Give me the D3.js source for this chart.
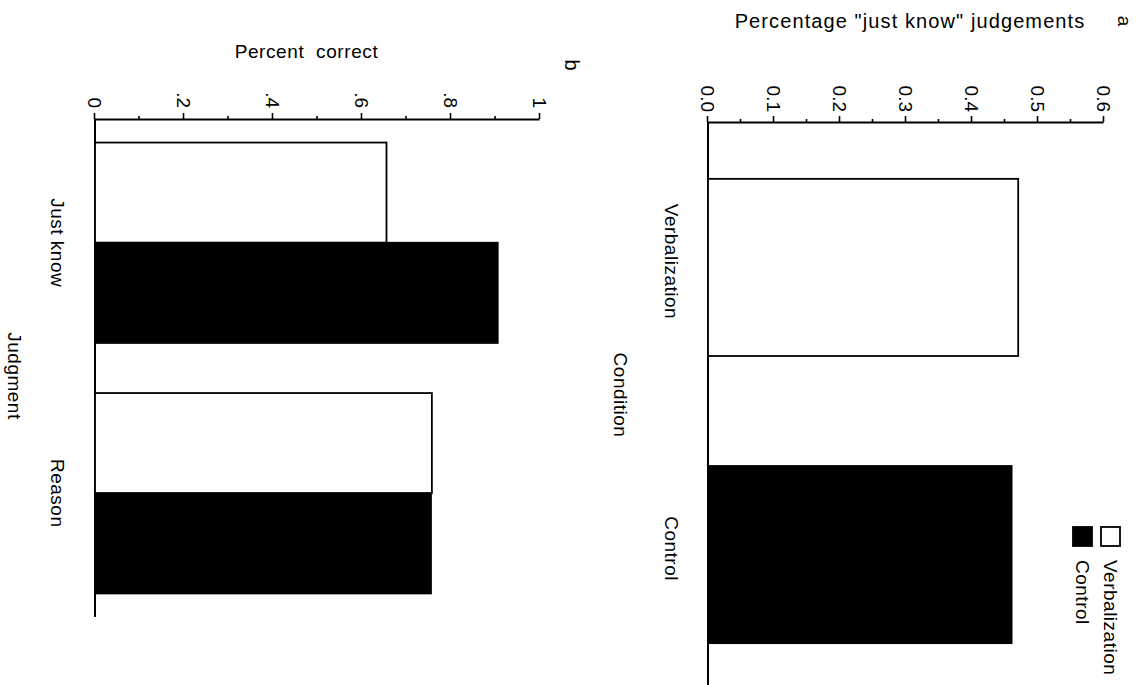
<!DOCTYPE html>
<html>
<head>
<meta charset="utf-8">
<script src="https://cdn.jsdelivr.net/npm/d3@7"></script>
<style>
  html, body { margin: 0; padding: 0; background: #fff; }
  svg { display: block; }
  text { font-family: "Liberation Sans", Arial, Helvetica, sans-serif; fill: #000; }
</style>
</head>
<body>
<svg id="chart" width="1138" height="685"></svg>
<script>
// Panel a: share of "just know" judgements by condition
const conditions = ["Verbalization", "Control"];
const justKnowShare = [0.47, 0.46];
const ticksA = [0.0, 0.1, 0.2, 0.3, 0.4, 0.5, 0.6];
const minorTicksA = [0.05, 0.15, 0.25, 0.35, 0.45, 0.55];

// Panel b: percent correct by judgement type and condition
const judgments = ["Just know", "Reason"];
const correctVerbalization = [0.655, 0.757];
const correctControl = [0.905, 0.755];
const ticksB = [0, 0.2, 0.4, 0.6, 0.8, 1];
const tickLabelsB = ["0", ".2", ".4", ".6", ".8", "1"];
const minorTicksB = [0.1, 0.3, 0.5, 0.7, 0.9];

const fills = { "Verbalization": "#fff", "Control": "#000" };
const FONT = 19;

const svg = d3.select("#chart");
svg.append("rect").attr("width", 1138).attr("height", 685).attr("fill", "#fff");

// The figure is laid out upright, then turned a quarter turn clockwise.
const g = svg.append("g").attr("transform", "translate(1138,0) rotate(90)");

function styleAxis(sel, width) {
  sel.select(".domain").attr("stroke", "#000").attr("stroke-width", width);
  sel.selectAll(".tick line").attr("stroke", "#000").attr("stroke-width", 1.6);
  sel.selectAll(".tick text").attr("font-size", FONT)
    .attr("font-family", "'Liberation Sans', Arial, Helvetica, sans-serif");
}

// ---------- panel a ----------
const axA = 122;
const yA = d3.scaleLinear().domain([0, 0.6]).range([430, 34]);
const xA = d3.scaleBand().domain(conditions).range([axA, 700])
  .paddingInner(0.383).paddingOuter(0.198);

const gA = g.append("g");
gA.append("g").attr("transform", `translate(${axA},0)`)
  .call(d3.axisLeft(yA).tickValues(minorTicksA).tickSize(3).tickFormat(""))
  .call(s => s.select(".domain").remove())
  .call(s => s.selectAll(".tick line").attr("stroke", "#000").attr("stroke-width", 1.6));
gA.append("g").attr("transform", `translate(${axA},0)`)
  .call(d3.axisLeft(yA).tickValues(ticksA).tickSize(6).tickSizeOuter(0).tickPadding(4)
    .tickFormat(d3.format(".1f")))
  .call(s => styleAxis(s, 2));

gA.append("line").attr("x1", axA).attr("x2", 700).attr("y1", yA(0)).attr("y2", yA(0))
  .attr("stroke", "#000").attr("stroke-width", 2);

gA.selectAll("rect.bar").data(conditions).join("rect").attr("class", "bar")
  .attr("x", d => xA(d)).attr("width", xA.bandwidth())
  .attr("y", (d, i) => yA(justKnowShare[i]))
  .attr("height", (d, i) => yA(0) - yA(justKnowShare[i]))
  .attr("fill", d => fills[d]).attr("stroke", "#000").attr("stroke-width", 1.8);

gA.selectAll("text.cat").data(conditions).join("text").attr("class", "cat")
  .attr("x", d => xA(d) + xA.bandwidth() / 2 - 6).attr("y", yA(0) + 43)
  .attr("text-anchor", "middle").attr("font-size", FONT).attr("letter-spacing", 0.5)
  .text(d => d);

gA.append("text").attr("x", 395).attr("y", yA(0) + 94)
  .attr("text-anchor", "middle").attr("font-size", FONT).attr("letter-spacing", 0.5)
  .text("Condition");

gA.append("text")
  .attr("transform", `translate(28,${(yA(0) + yA(0.6)) / 2 - 4}) rotate(-90)`)
  .attr("text-anchor", "middle").attr("font-size", 20).attr("letter-spacing", 1.1)
  .text("Percentage \"just know\" judgements");

gA.append("text").attr("x", 21).attr("y", 20).attr("font-size", 19)
  .attr("text-anchor", "middle").text("a");

// legend
const legend = gA.append("g");
conditions.forEach((c, i) => {
  const cy = 27 + i * 28;
  legend.append("rect").attr("x", 527).attr("y", cy - 9).attr("width", 19).attr("height", 19)
    .attr("fill", fills[c]).attr("stroke", "#000").attr("stroke-width", 1.8);
  legend.append("text").attr("x", 560).attr("y", cy + 7).attr("font-size", FONT)
    .attr("letter-spacing", 0.5).text(c);
});

// ---------- panel b ----------
const axB = 119;
const yB = d3.scaleLinear().domain([0, 1]).range([1043, 598]);
const xB = d3.scaleBand().domain(judgments).range([axB, 617])
  .paddingInner(0.2).paddingOuter(0.094);
const xSub = d3.scaleBand().domain(conditions).range([0, xB.bandwidth()]);

const gB = g.append("g");
gB.append("g").attr("transform", `translate(${axB},0)`)
  .call(d3.axisLeft(yB).tickValues(minorTicksB).tickSize(3).tickFormat(""))
  .call(s => s.select(".domain").remove())
  .call(s => s.selectAll(".tick line").attr("stroke", "#000").attr("stroke-width", 1.6));
gB.append("g").attr("transform", `translate(${axB},0)`)
  .call(d3.axisLeft(yB).tickValues(ticksB).tickSize(6).tickSizeOuter(0).tickPadding(5)
    .tickFormat((d, i) => tickLabelsB[i]))
  .call(s => styleAxis(s, 2));

gB.append("line").attr("x1", axB).attr("x2", 617).attr("y1", yB(0)).attr("y2", yB(0))
  .attr("stroke", "#000").attr("stroke-width", 2);

const barsB = [];
judgments.forEach((j, i) => {
  barsB.push({ j, c: "Verbalization", v: correctVerbalization[i] });
  barsB.push({ j, c: "Control", v: correctControl[i] });
});
gB.selectAll("rect.bar").data(barsB).join("rect").attr("class", "bar")
  .attr("x", d => xB(d.j) + xSub(d.c)).attr("width", xSub.bandwidth())
  .attr("y", d => yB(d.v)).attr("height", d => yB(0) - yB(d.v))
  .attr("fill", d => fills[d.c]).attr("stroke", "#000").attr("stroke-width", 1.8);

gB.selectAll("text.cat").data(judgments).join("text").attr("class", "cat")
  .attr("x", d => xB(d) + xB.bandwidth() / 2).attr("y", yB(0) + 44)
  .attr("text-anchor", "middle").attr("font-size", FONT).attr("letter-spacing", 0.5)
  .text(d => d);

gB.append("text").attr("x", 376).attr("y", yB(0) + 87)
  .attr("text-anchor", "middle").attr("font-size", FONT).attr("letter-spacing", 0.5)
  .text("Judgment");

gB.append("text")
  .attr("transform", `translate(58,${(yB(0) + yB(1)) / 2 + 11}) rotate(-90)`)
  .attr("text-anchor", "middle").attr("font-size", FONT).attr("letter-spacing", 0.6)
  .attr("xml:space", "preserve").style("white-space", "pre")
  .text("Percent  correct");

gB.append("text").attr("x", 65).attr("y", 573).attr("font-size", 20)
  .attr("text-anchor", "middle").text("b");
</script>
</body>
</html>
